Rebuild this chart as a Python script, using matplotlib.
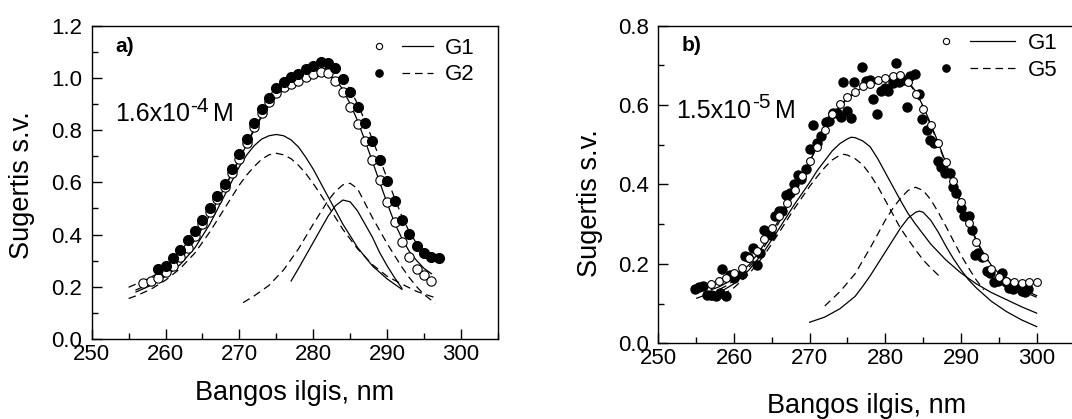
import matplotlib
matplotlib.use('Agg')
import matplotlib.pyplot as plt
from matplotlib.lines import Line2D
from matplotlib.legend_handler import HandlerTuple
from matplotlib.ticker import MultipleLocator, FormatStrFormatter

plt.rcParams['font.family'] = ['Liberation Sans', 'DejaVu Sans']
plt.rcParams['lines.scale_dashes'] = False

# ---------------- Panel a) data ----------------
a_g1_x = list(range(257, 297))
a_g1_y = [0.216, 0.222, 0.235, 0.255, 0.281, 0.313, 0.350, 0.394, 0.439, 0.486,
          0.535, 0.583, 0.637, 0.688, 0.752, 0.811, 0.864, 0.909, 0.941, 0.963,
          0.977, 0.989, 1.002, 1.016, 1.023, 1.020, 0.989, 0.945, 0.887, 0.822,
          0.757, 0.684, 0.609, 0.525, 0.447, 0.371, 0.314, 0.269, 0.244, 0.223]
a_g2_x = list(range(259, 298))
a_g2_y = [0.267, 0.281, 0.309, 0.340, 0.378, 0.415, 0.457, 0.500, 0.548, 0.594,
          0.650, 0.707, 0.767, 0.826, 0.880, 0.923, 0.960, 0.982, 1.002, 1.015,
          1.034, 1.046, 1.060, 1.057, 1.037, 0.996, 0.947, 0.887, 0.826, 0.758,
          0.686, 0.605, 0.529, 0.456, 0.401, 0.357, 0.331, 0.314, 0.309]
a_fit1_x = list(range(256, 297))
a_fit1_y = [0.188, 0.200, 0.215, 0.232, 0.252, 0.276, 0.305, 0.340, 0.380, 0.425,
            0.475, 0.527, 0.580, 0.635, 0.690, 0.745, 0.800, 0.850, 0.895, 0.930,
            0.955, 0.972, 0.985, 0.995, 1.002, 1.007, 1.008, 0.995, 0.955, 0.900,
            0.835, 0.760, 0.680, 0.600, 0.520, 0.445, 0.385, 0.335, 0.300, 0.270, 0.250]
a_fit2_x = list(range(255, 297))
a_fit2_y = [0.198, 0.210, 0.222, 0.236, 0.252, 0.270, 0.293, 0.320, 0.352, 0.390,
            0.432, 0.478, 0.528, 0.580, 0.635, 0.690, 0.748, 0.805, 0.855, 0.900,
            0.940, 0.968, 0.990, 1.005, 1.018, 1.028, 1.035, 1.035, 1.025, 1.000,
            0.955, 0.900, 0.835, 0.765, 0.690, 0.615, 0.540, 0.470, 0.410, 0.365,
            0.330, 0.310]
a_c1big_x = [256, 258, 260, 262, 264, 266, 268, 270, 271, 272, 273, 274, 275, 276,
             277, 278, 279, 280, 282, 284, 286, 288, 290, 292]
a_c1big_y = [0.180, 0.205, 0.240, 0.285, 0.350, 0.440, 0.550, 0.660, 0.705, 0.740,
             0.765, 0.778, 0.783, 0.778, 0.762, 0.735, 0.695, 0.650, 0.545, 0.440,
             0.350, 0.280, 0.230, 0.190]
a_c1small_x = [277, 278, 279, 280, 281, 282, 283, 284, 285, 286, 287, 288, 289, 290,
               291, 292]
a_c1small_y = [0.222, 0.270, 0.320, 0.370, 0.420, 0.470, 0.510, 0.532, 0.525, 0.490,
               0.440, 0.390, 0.330, 0.280, 0.235, 0.194]
a_c2big_x = [255, 256, 258, 260, 262, 264, 266, 268, 270, 271, 272, 273, 274, 275,
             276, 277, 278, 279, 280, 282, 284, 286, 288, 290, 292, 294, 296.5]
a_c2big_y = [0.155, 0.165, 0.190, 0.225, 0.270, 0.330, 0.410, 0.500, 0.590, 0.628,
             0.660, 0.688, 0.705, 0.711, 0.705, 0.690, 0.665, 0.633, 0.595, 0.510,
             0.420, 0.345, 0.285, 0.240, 0.210, 0.182, 0.158]
a_c2small_x = [270.5, 272, 274, 276, 278, 280, 281, 282, 283, 284, 285, 286, 287,
               288, 289, 290, 291, 292, 293, 294, 295, 296.5]
a_c2small_y = [0.139, 0.165, 0.205, 0.265, 0.345, 0.440, 0.485, 0.530, 0.565, 0.590,
               0.596, 0.575, 0.520, 0.465, 0.415, 0.365, 0.320, 0.275, 0.235, 0.200,
               0.170, 0.137]

# ---------------- Panel b) data ----------------
b_g1_x = list(range(257, 301))
b_g1_y = [0.150, 0.157, 0.165, 0.178, 0.190, 0.214, 0.233, 0.263, 0.290, 0.321,
          0.353, 0.385, 0.422, 0.458, 0.495, 0.537, 0.577, 0.602, 0.621, 0.633,
          0.649, 0.653, 0.662, 0.669, 0.673, 0.675, 0.658, 0.627, 0.589, 0.550,
          0.504, 0.457, 0.409, 0.355, 0.304, 0.254, 0.217, 0.186, 0.168, 0.157,
          0.154, 0.151, 0.154, 0.155]
b_g5_x = [254.8, 255.4, 255.9, 256.5, 257.0, 257.6, 258.1, 258.4, 259.0, 259.5,
          260.0, 261.0, 261.5, 261.9, 262.5, 263.0, 263.4, 264.0, 264.4, 264.9,
          265.4, 265.9, 266.4, 266.9, 267.4, 267.9, 268.5, 268.9, 269.5, 270.0,
          270.5, 271.0, 271.5, 272.1, 272.5, 273.1, 273.6, 274.1, 274.4, 275.0,
          275.4, 275.9, 276.9, 277.4, 278.0, 278.4, 278.9, 279.4, 279.9, 280.4,
          281.0, 281.4, 281.8, 282.4, 282.9, 283.3, 283.9, 284.4, 284.9, 285.5,
          285.9, 286.4, 286.9, 287.4, 287.9, 288.5, 288.9, 289.4, 290.0, 290.4,
          291.0, 291.5, 291.8, 292.2, 292.8, 293.4, 293.9, 294.4, 294.9, 295.4,
          295.9, 296.4, 296.9, 297.4, 298.0, 298.5, 298.9]
b_g5_y = [0.136, 0.141, 0.145, 0.122, 0.122, 0.120, 0.126, 0.186, 0.119, 0.172,
          0.164, 0.175, 0.220, 0.217, 0.239, 0.196, 0.228, 0.285, 0.279, 0.272,
          0.321, 0.332, 0.333, 0.374, 0.378, 0.401, 0.424, 0.415, 0.438, 0.489,
          0.550, 0.504, 0.521, 0.558, 0.561, 0.579, 0.581, 0.571, 0.659, 0.584,
          0.567, 0.659, 0.697, 0.661, 0.663, 0.615, 0.578, 0.636, 0.642, 0.636,
          0.655, 0.707, 0.657, 0.663, 0.596, 0.673, 0.678, 0.627, 0.564, 0.537,
          0.512, 0.505, 0.458, 0.445, 0.428, 0.428, 0.393, 0.378, 0.340, 0.321,
          0.321, 0.285, 0.222, 0.227, 0.217, 0.181, 0.176, 0.155, 0.158, 0.178,
          0.155, 0.139, 0.136, 0.141, 0.131, 0.129, 0.136]
b_fit1_x = list(range(257, 301))
b_fit1_y = [0.135, 0.142, 0.152, 0.165, 0.180, 0.198, 0.222, 0.250, 0.280, 0.313,
            0.347, 0.383, 0.420, 0.458, 0.497, 0.535, 0.570, 0.598, 0.618, 0.633,
            0.644, 0.652, 0.658, 0.662, 0.665, 0.666, 0.660, 0.635, 0.597, 0.553,
            0.505, 0.455, 0.405, 0.355, 0.306, 0.262, 0.226, 0.197, 0.176, 0.160,
            0.148, 0.138, 0.129, 0.120]
b_fit5_x = list(range(255, 301))
b_fit5_y = [0.113, 0.120, 0.127, 0.135, 0.145, 0.158, 0.173, 0.192, 0.215, 0.243,
            0.273, 0.306, 0.342, 0.380, 0.418, 0.457, 0.496, 0.534, 0.568, 0.596,
            0.616, 0.631, 0.642, 0.650, 0.656, 0.660, 0.663, 0.664, 0.658, 0.632,
            0.593, 0.550, 0.502, 0.452, 0.402, 0.352, 0.303, 0.259, 0.223, 0.194,
            0.172, 0.156, 0.143, 0.133, 0.124, 0.116]
b_c1big_x = [257, 258, 260, 262, 264, 266, 268, 270, 271, 272, 273, 274, 275, 275.5,
             276, 277, 278, 279, 280, 281, 282, 283, 284, 286, 288, 290, 292, 294,
             296, 298, 300]
b_c1big_y = [0.118, 0.127, 0.150, 0.185, 0.232, 0.290, 0.350, 0.405, 0.435, 0.460,
             0.485, 0.503, 0.515, 0.519, 0.518, 0.510, 0.495, 0.465, 0.430, 0.395,
             0.360, 0.327, 0.300, 0.250, 0.210, 0.177, 0.150, 0.128, 0.110, 0.092,
             0.076]
b_c1small_x = [270, 272, 274, 276, 277, 278, 279, 280, 281, 282, 283, 284, 284.5,
               285, 286, 287, 288, 289, 290, 291, 292, 294, 296, 298, 300]
b_c1small_y = [0.053, 0.066, 0.087, 0.118, 0.143, 0.170, 0.200, 0.230, 0.260, 0.290,
               0.315, 0.330, 0.333, 0.330, 0.310, 0.280, 0.245, 0.213, 0.185, 0.160,
               0.140, 0.106, 0.080, 0.059, 0.042]
b_c5big_x = [257, 258, 260, 262, 264, 266, 268, 270, 271, 272, 273, 274, 274.5, 275,
             276, 277, 278, 279, 280, 281, 282, 283, 284, 285, 286, 287.2]
b_c5big_y = [0.108, 0.117, 0.140, 0.175, 0.222, 0.280, 0.340, 0.395, 0.420, 0.443,
             0.462, 0.474, 0.476, 0.474, 0.465, 0.450, 0.425, 0.395, 0.360, 0.325,
             0.290, 0.262, 0.235, 0.210, 0.190, 0.168]
b_c5small_x = [272, 274, 276, 278, 280, 281, 282, 283, 284, 285, 286, 287, 288, 289,
               290, 291, 292, 293]
b_c5small_y = [0.094, 0.130, 0.175, 0.240, 0.310, 0.340, 0.365, 0.385, 0.393, 0.385,
               0.362, 0.330, 0.295, 0.258, 0.222, 0.190, 0.160, 0.135]

x_ticks = [250, 260, 270, 280, 290, 300]
DASH = (5.5, 3.5)
LW = 0.9

fig = plt.figure(figsize=(10.72, 4.19), dpi=100)
axA = fig.add_axes([0.0855, 0.191, 0.379, 0.748])
axB = fig.add_axes([0.6141, 0.1807, 0.3882, 0.758])


def style(ax, ymax):
    ax.set_xlim(250, 305)
    ax.set_ylim(0, ymax)
    ax.set_xticks(x_ticks)
    ax.xaxis.set_minor_locator(MultipleLocator(5))
    ax.yaxis.set_major_locator(MultipleLocator(0.2))
    ax.yaxis.set_minor_locator(MultipleLocator(0.1))
    ax.yaxis.set_major_formatter(FormatStrFormatter('%.1f'))
    ax.tick_params(which='both', direction='in', top=False, right=False,
                   labelsize=16, width=1.0)
    ax.tick_params(which='major', length=7)
    ax.tick_params(which='minor', length=4)
    ax.tick_params(axis='x', pad=3.5)
    ax.tick_params(axis='y', pad=7)
    for s in ax.spines.values():
        s.set_linewidth(1.0)


def legend(ax, labels, anchor, hlen, tpad, pad):
    h = [(Line2D([], [], ls='none', marker='o', mfc='white', mec='black', ms=4.5, mew=0.8),
          Line2D([], [], color='black', lw=LW)),
         (Line2D([], [], ls='none', marker='o', mfc='black', mec='black', ms=5.2),
          Line2D([], [], color='black', lw=LW, dashes=DASH))]
    ax.legend(h, labels, handler_map={tuple: HandlerTuple(ndivide=None, pad=pad)},
              loc='upper left', bbox_to_anchor=anchor, frameon=False, fontsize=16,
              handlelength=hlen, handletextpad=tpad, labelspacing=0.25,
              borderpad=0, borderaxespad=0)


def concentration(ax, x, y, base, exponent):
    t1 = ax.text(x, y, base, fontsize=18, ha='left', va='baseline')
    t2 = ax.annotate(exponent, xy=(1, 1), xycoords=t1, xytext=(0.5, 4.2),
                     textcoords='offset points', fontsize=15, ha='left', va='top')
    ax.annotate('M', xy=(1, 0), xycoords=(t2, t1), xytext=(3, 0),
                textcoords='offset points', fontsize=18, ha='left', va='bottom')


# ----- panel a
ax = axA
ax.plot(a_fit1_x, a_fit1_y, color='black', lw=LW)
ax.plot(a_fit2_x, a_fit2_y, color='black', lw=LW, dashes=DASH)
ax.plot(a_c1big_x, a_c1big_y, color='black', lw=LW)
ax.plot(a_c1small_x, a_c1small_y, color='black', lw=LW)
ax.plot(a_c2big_x, a_c2big_y, color='black', lw=LW, dashes=DASH)
ax.plot(a_c2small_x, a_c2small_y, color='black', lw=LW, dashes=DASH)
ax.plot(a_g1_x, a_g1_y, ls='none', marker='o', mfc='white', mec='black', ms=6.7, mew=0.8)
ax.plot(a_g2_x, a_g2_y, ls='none', marker='o', mfc='black', mec='black', ms=7.0)
style(ax, 1.2)
ax.text(253.2, 1.121, 'a)', fontsize=15, fontweight='bold', va='center', ha='left')
concentration(ax, 253.15, 0.833, '1.6x10', '-4')
ax.set_xlabel('Bangos ilgis, nm', fontsize=19.5)
ax.xaxis.label.set_va('center')
ax.xaxis.set_label_coords(0.5, -0.172)
ax.set_ylabel('Sugertis s.v.', fontsize=19.5)
ax.yaxis.label.set_va('center')
ax.yaxis.set_label_coords(-0.1715, 0.49)
legend(ax, ['G1', 'G2'], (0.669, 0.961), 3.13, 0.54, 0.34)

# ----- panel b
ax = axB
ax.plot(b_fit1_x, b_fit1_y, color='black', lw=LW)
ax.plot(b_fit5_x, b_fit5_y, color='black', lw=LW, dashes=DASH)
ax.plot(b_c1big_x, b_c1big_y, color='black', lw=LW)
ax.plot(b_c1small_x, b_c1small_y, color='black', lw=LW)
ax.plot(b_c5big_x, b_c5big_y, color='black', lw=LW, dashes=DASH)
ax.plot(b_c5small_x, b_c5small_y, color='black', lw=LW, dashes=DASH)
ax.plot(b_g5_x, b_g5_y, ls='none', marker='o', mfc='black', mec='black', ms=6.5)
ax.plot(b_g1_x, b_g1_y, ls='none', marker='o', mfc='white', mec='black', ms=5.6, mew=0.8)
style(ax, 0.8)
ax.text(253.1, 0.749, 'b)', fontsize=15, fontweight='bold', va='center', ha='left')
concentration(ax, 252.4, 0.567, '1.5x10', '-5')
ax.set_xlabel('Bangos ilgis, nm', fontsize=19.5)
ax.xaxis.label.set_va('center')
ax.xaxis.set_label_coords(0.5, -0.197)
ax.set_ylabel('Sugertis s.v.', fontsize=19.5)
ax.yaxis.label.set_va('center')
ax.yaxis.set_label_coords(-0.164, 0.44)
legend(ax, ['G1', 'G5'], (0.637, 0.977), 4.12, 0.59, 0.07)

fig.savefig('out.png', dpi=100)
